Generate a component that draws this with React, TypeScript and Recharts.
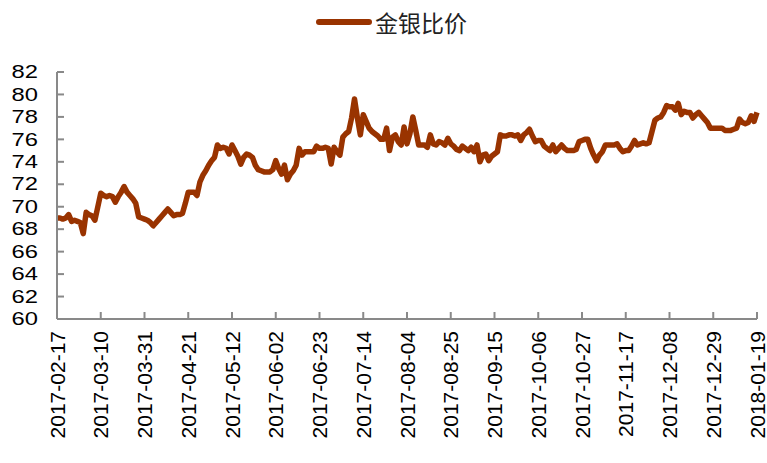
import { LineChart, Line, XAxis, YAxis, Legend } from 'recharts'

// trading days start on this Friday, five per week, no holidays
const START_DATE = '2017-02-17'

const TICK_DATES = [
  '2017-02-17', '2017-03-10', '2017-03-31', '2017-04-21', '2017-05-12', '2017-06-02',
  '2017-06-23', '2017-07-14', '2017-08-04', '2017-08-25', '2017-09-15', '2017-10-06',
  '2017-10-27', '2017-11-17', '2017-12-08', '2017-12-29', '2018-01-19'
]

const Y_TICKS = [60, 62, 64, 66, 68, 70, 72, 74, 76, 78, 80, 82]

// 金银比价
const RATIO = [
  69.0, 69.0, 68.9, 69.0, 69.3, 68.7, 68.8, 68.7, 68.6, 67.6,
  69.5, 69.3, 69.2, 68.8, 70.0, 71.2, 71.0, 70.9, 71.0, 70.9,
  70.4, 70.9, 71.3, 71.8, 71.3, 71.0, 70.7, 70.3, 69.1, 69.0,
  68.9, 68.8, 68.6, 68.3, 68.6, 68.9, 69.2, 69.5, 69.8, 69.5,
  69.2, 69.3, 69.3, 69.4, 70.3, 71.3, 71.3, 71.3, 71.0, 72.2,
  72.8, 73.2, 73.7, 74.1, 74.4, 75.5, 75.2, 75.3, 75.2, 74.7,
  75.5, 75.0, 74.5, 73.8, 74.4, 74.7, 74.6, 74.4, 73.7, 73.3,
  73.2, 73.1, 73.1, 73.1, 73.3, 74.1, 73.4, 72.9, 73.7, 72.4,
  72.9, 73.2, 73.7, 75.2, 74.6, 74.9, 74.9, 74.9, 74.9, 75.4,
  75.2, 75.2, 75.3, 75.2, 73.8, 75.3, 74.9, 74.6, 76.2, 76.5,
  76.7, 77.9, 79.6, 77.9, 76.4, 78.2, 77.6, 77.0, 76.7, 76.5,
  76.3, 76.0, 76.0, 77.0, 75.0, 76.2, 76.4, 75.8, 75.5, 77.1,
  75.6, 76.5, 78.0, 76.8, 75.5, 75.5, 75.5, 75.3, 76.4, 75.6,
  75.5, 75.8, 75.7, 75.5, 76.1, 75.6, 75.4, 75.1, 75.0, 75.4,
  75.2, 75.0, 75.3, 74.9, 75.5, 74.0, 74.6, 74.7, 74.1, 74.5,
  74.7, 74.9, 76.4, 76.3, 76.3, 76.4, 76.4, 76.3, 76.4, 75.9,
  76.4, 76.6, 76.9, 76.3, 75.8, 75.9, 75.9, 75.4, 75.2, 75.0,
  75.5, 74.9, 75.2, 75.5, 75.2, 75.0, 75.0, 75.0, 75.1, 75.8,
  75.9, 76.0, 76.0, 75.2, 74.6, 74.1, 74.6, 74.9, 75.5, 75.5,
  75.5, 75.5, 75.6, 75.2, 74.9, 75.0, 75.0, 75.4, 75.9, 75.5,
  75.6, 75.7, 75.6, 75.7, 76.7, 77.7, 77.9, 78.0, 78.4, 79.0,
  78.9, 78.9, 78.6, 79.2, 78.2, 78.5, 78.4, 78.4, 77.9, 78.2,
  78.4, 78.1, 77.8, 77.5, 77.0, 77.0, 77.0, 77.0, 77.0, 76.8,
  76.8, 76.8, 76.9, 77.0, 77.8, 77.5, 77.4, 77.5, 78.1, 77.6,
  78.4
]

const LINE_COLOR = '#993300'
const AXIS_COLOR = '#898989'
const FONT = '"Liberation Sans", Arial, sans-serif'

function tradingDays(start: string, count: number) {
  const out: string[] = []
  const d = new Date(start + 'T00:00:00Z')
  while (out.length < count) {
    const wd = d.getUTCDay()
    if (wd !== 0 && wd !== 6) out.push(d.toISOString().slice(0, 10))
    d.setUTCDate(d.getUTCDate() + 1)
  }
  return out
}

const dates = tradingDays(START_DATE, RATIO.length)
const data = dates.map((date, i) => ({ date, ratio: RATIO[i] }))

const XTick = (props: any) => {
  const { x, y, payload } = props
  return (
    <text
      x={x}
      y={y}
      transform={`rotate(-90, ${x}, ${y})`}
      textAnchor="end"
      dominantBaseline="central"
      fontSize={21}
      fontFamily={FONT}
      fill="#000"
    >
      {payload.value}
    </text>
  )
}

const YTick = (props: any) => {
  const { x, y, payload } = props
  return (
    <text
      x={x}
      y={y}
      textAnchor="end"
      dominantBaseline="central"
      fontSize={19}
      fontFamily={FONT}
      fill="#000"
      transform={`translate(${x}, ${y}) scale(1.25, 1) translate(${-x}, ${-y})`}
    >
      {payload.value}
    </text>
  )
}

const LegendContent = () => (
  <div style={{ position: 'relative', height: 44 }}>
    <div
      style={{
        position: 'absolute',
        left: 316,
        top: 19,
        width: 56,
        height: 6,
        borderRadius: 3,
        background: LINE_COLOR
      }}
    />
    <div
      style={{
        position: 'absolute',
        left: 375,
        top: 6,
        fontSize: 23,
        lineHeight: '32px',
        color: '#222',
        fontFamily: '"Noto Sans CJK SC", sans-serif'
      }}
    >
      金银比价
    </div>
  </div>
)

export default function App() {
  return (
    <div style={{ position: 'absolute', left: 0, top: 0, background: '#fff' }}>
      <LineChart
        width={767}
        height={463}
        data={data}
        margin={{ top: 28, right: 10, left: 0, bottom: 4 }}
      >
        <Legend
          verticalAlign="top"
          content={<LegendContent />}
          wrapperStyle={{ left: 0, top: 0, width: 767 }}
        />
        <XAxis
          dataKey="date"
          ticks={TICK_DATES}
          interval={0}
          height={140}
          tickSize={-7}
          tickMargin={19}
          tick={<XTick />}
          stroke={AXIS_COLOR}
          strokeWidth={2}
        />
        <YAxis
          domain={[60, 82]}
          ticks={Y_TICKS}
          interval={0}
          width={57}
          tickSize={-7}
          tickMargin={26}
          tick={<YTick />}
          stroke={AXIS_COLOR}
          strokeWidth={2}
        />
        <Line
          type="linear"
          dataKey="ratio"
          stroke={LINE_COLOR}
          strokeWidth={5.5}
          strokeLinejoin="round"
          dot={false}
          isAnimationActive={false}
        />
      </LineChart>
    </div>
  )
}
